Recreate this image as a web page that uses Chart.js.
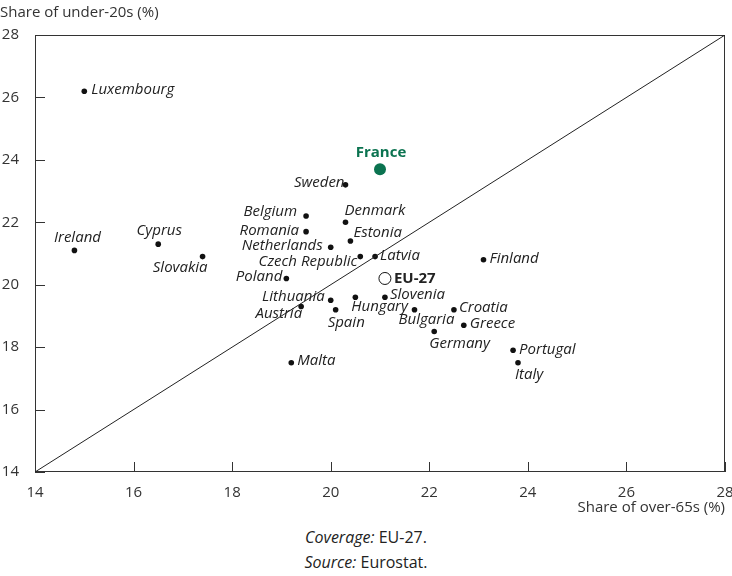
<!DOCTYPE html>
<html>
<head>
<meta charset="utf-8">
<script src="https://cdn.jsdelivr.net/npm/chart.js@4.4.1/dist/chart.umd.min.js"></script>
<style>
    body { margin: 0; background: #fff; font-family: "Open Sans", sans-serif; color: #222; }
    #wrap { width: 732px; height: 520px; position: relative; }
    .note { text-align: center; font-size: 16px; line-height: 25px; margin-top: 5px; }
</style>
</head>
<body>
<div id="wrap"><canvas id="chart"></canvas></div>
<div class="note"><i>Coverage:</i> EU-27.<br><i>Source:</i> Eurostat.</div>
<script>
const countries = ["Luxembourg", "Ireland", "Cyprus", "Slovakia", "Sweden", "Belgium", "Romania", "Denmark",
    "Netherlands", "Estonia", "Czech Republic", "Latvia", "Poland", "Lithuania", "Austria", "Spain",
    "Hungary", "Slovenia", "Bulgaria", "Croatia", "Greece", "Germany", "Finland", "Portugal", "Italy", "Malta"];
const over65 = [15.0, 14.8, 16.5, 17.4, 20.3, 19.5, 19.5, 20.3,
    20.0, 20.4, 20.6, 20.9, 19.1, 20.0, 19.4, 20.1,
    20.5, 21.1, 21.7, 22.5, 22.7, 22.1, 23.1, 23.7, 23.8, 19.2];
const under20 = [26.2, 21.1, 21.3, 20.9, 23.2, 22.2, 21.7, 22.0,
    21.2, 21.4, 20.9, 20.9, 20.2, 19.5, 19.3, 19.2,
    19.6, 19.6, 19.2, 19.2, 18.7, 18.5, 20.8, 17.9, 17.5, 17.5];
const france = { x: 21.0, y: 23.7 };
const eu27 = { x: 21.1, y: 20.2 };
const ticks = [14, 16, 18, 20, 22, 24, 26, 28];

// where each label sits relative to its dot: [textAlign, dx, dy]
const place = {
    "Luxembourg": ["left", 7, -1], "Ireland": ["center", 3, -13], "Cyprus": ["center", 1, -13],
    "Slovakia": ["right", 5, 11], "Sweden": ["right", -1, -2], "Belgium": ["right", -9, -4],
    "Romania": ["right", -7, -1], "Denmark": ["left", -1, -12], "Netherlands": ["right", -8, -2],
    "Estonia": ["left", 3, -8], "Czech Republic": ["right", -3, 5], "Latvia": ["left", 5, -1],
    "Poland": ["right", -4, -2], "Lithuania": ["right", -6, -4], "Austria": ["right", 1, 7],
    "Spain": ["left", -8, 13], "Hungary": ["left", -4, 10], "Slovenia": ["left", 5, -2],
    "Bulgaria": ["left", -16, 10], "Croatia": ["left", 5, -2], "Greece": ["left", 6, -2],
    "Germany": ["left", -5, 12], "Finland": ["left", 6, -1], "Portugal": ["left", 6, -1],
    "Italy": ["left", -3, 12], "Malta": ["left", 6, -2],
    "France": ["center", 1, -16], "EU-27": ["left", 9, 0]
};

const points = countries.map((c, i) => ({ x: over65[i], y: under20[i], label: c }));

const extras = {
    id: "extras",
    beforeDatasetsDraw(chart) {
        const ctx = chart.ctx, a = chart.chartArea;
        const xs = chart.scales.x, ys = chart.scales.y;
        ctx.save();
        ctx.strokeStyle = "#333";
        ctx.lineWidth = 1;
        ctx.strokeRect(a.left + 0.5, a.top + 0.5, a.width - 1, a.height - 1);
        ctx.beginPath();
        ticks.forEach(t => {
            const px = Math.round(xs.getPixelForValue(t)) + 0.5;
            ctx.moveTo(px, a.bottom); ctx.lineTo(px, a.bottom - 10);
            const py = Math.round(ys.getPixelForValue(t)) + 0.5;
            ctx.moveTo(a.left, py); ctx.lineTo(a.left + 10, py);
        });
        ctx.stroke();
        ctx.fillStyle = "#333";
        ctx.font = "15px 'Open Sans'";
        ctx.textBaseline = "middle";
        ctx.textAlign = "left";
        ctx.fillText("Share of under-20s (%)", 0, 13);
        ctx.textAlign = "right";
        ctx.fillText("Share of over-65s (%)", a.right, 508);
        ctx.restore();
    },
    afterDatasetsDraw(chart) {
        const ctx = chart.ctx;
        const xs = chart.scales.x, ys = chart.scales.y;
        ctx.save();
        ctx.textBaseline = "middle";
        const draw = (p, font, color) => {
            const pl = place[p.label];
            ctx.font = font;
            ctx.fillStyle = color;
            ctx.textAlign = pl[0];
            ctx.fillText(p.label, xs.getPixelForValue(p.x) + pl[1], ys.getPixelForValue(p.y) + pl[2]);
        };
        points.forEach(p => draw(p, "italic 15px 'Open Sans'", "#222"));
        draw({ ...france, label: "France" }, "bold 15px 'Open Sans'", "#0b7350");
        draw({ ...eu27, label: "EU-27" }, "bold 15px 'Open Sans'", "#222");
        ctx.restore();
    }
};

new Chart(document.getElementById("chart"), {
    type: "scatter",
    data: {
        datasets: [
            {
                data: [{ x: 14, y: 14 }, { x: 28, y: 28 }],
                showLine: true,
                borderColor: "#222",
                borderWidth: 1,
                pointRadius: 0
            },
            {
                data: points,
                backgroundColor: "#111",
                borderWidth: 0,
                pointRadius: 2.8
            },
            {
                data: [france],
                backgroundColor: "#0b7350",
                borderWidth: 0,
                pointRadius: 6
            },
            {
                data: [eu27],
                backgroundColor: "#fff",
                borderColor: "#111",
                borderWidth: 1,
                pointRadius: 6
            }
        ]
    },
    options: {
        responsive: true,
        maintainAspectRatio: false,
        animation: false,
        layout: { padding: { top: 35, right: 7, left: 0, bottom: 0 } },
        plugins: { legend: { display: false }, tooltip: { enabled: false } },
        scales: {
            x: {
                type: "linear",
                min: 14, max: 28,
                afterFit: s => { s.height = 48; s.paddingLeft = 0; s.paddingRight = 0; },
                border: { display: false },
                grid: { display: false },
                ticks: { stepSize: 2, padding: 4, color: "#333", font: { family: "Open Sans", size: 15 } }
            },
            y: {
                min: 14, max: 28,
                afterFit: s => { s.width = 35; s.paddingTop = 0; s.paddingBottom = 0; },
                border: { display: false },
                grid: { display: false },
                ticks: { stepSize: 2, padding: 8, color: "#333", font: { family: "Open Sans", size: 15 } }
            }
        }
    },
    plugins: [extras]
});
</script>
</body>
</html>
